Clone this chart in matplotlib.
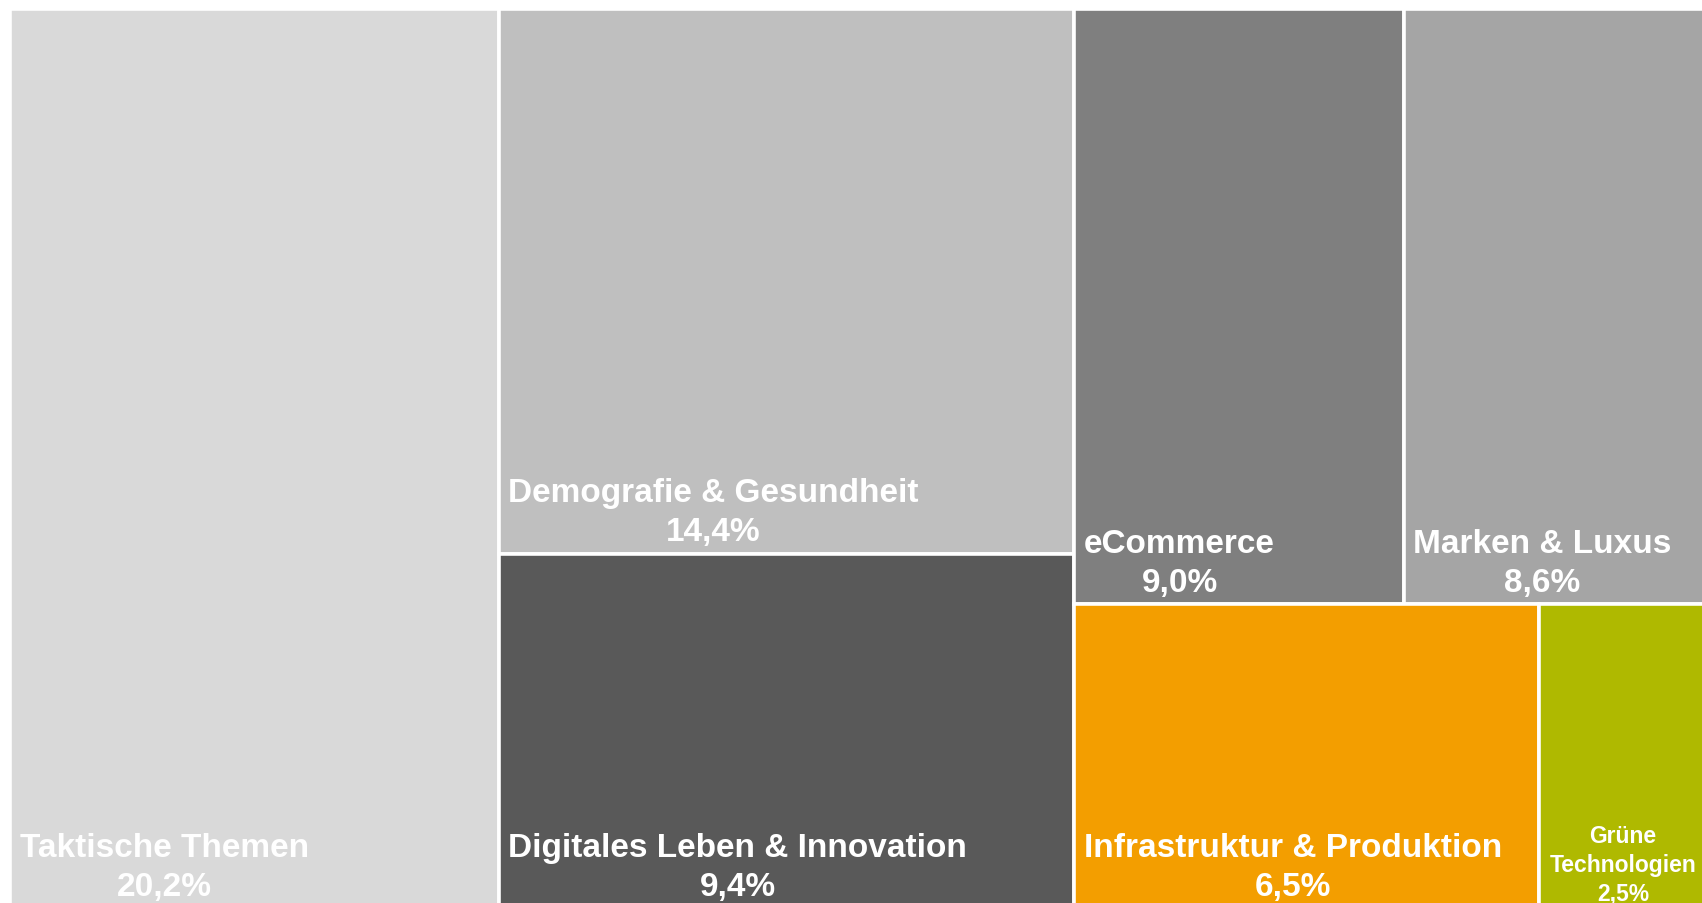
import matplotlib
matplotlib.use("Agg")
import matplotlib.pyplot as plt
from matplotlib.patches import Rectangle

plt.rcParams['font.family'] = ['Liberation Sans', 'DejaVu Sans']

categories = ["Taktische Themen", "Demografie & Gesundheit", "Digitales Leben & Innovation",
              "eCommerce", "Marken & Luxus", "Infrastruktur & Produktion", "Grüne\nTechnologien"]
values = [20.2, 14.4, 9.4, 9.0, 8.6, 6.5, 2.5]
labels = ["20,2%", "14,4%", "9,4%", "9,0%", "8,6%", "6,5%", "2,5%"]
colors = ["#D9D9D9", "#BFBFBF", "#595959", "#7F7F7F", "#A5A5A5", "#F39E00", "#AFB900"]

# layout structure: columns -> rows -> items (indices)
structure = [[[0]], [[1], [2]], [[3, 4], [5, 6]]]

W, H = 1702, 904
dpi = 100
fig = plt.figure(figsize=(W / dpi, H / dpi), dpi=dpi)
ax = fig.add_axes([10 / W, -6 / H, 1708 / W, 900 / H])
ax.set_xlim(0, 1)
ax.set_ylim(0, 1)
ax.axis('off')

total = sum(values)
rects = {}
x = 0.0
for col in structure:
    csum = sum(values[i] for row in col for i in row)
    cw = csum / total
    ytop = 1.0
    for row in col:
        rsum = sum(values[i] for i in row)
        rh = rsum / csum
        xx = x
        for i in row:
            iw = cw * values[i] / rsum
            rects[i] = (xx, ytop - rh, iw, rh)
            xx += iw
        ytop -= rh
    x += cw

for i, (rx, ry, rw, rh) in rects.items():
    ax.add_patch(Rectangle((rx, ry), rw, rh, facecolor=colors[i], edgecolor='white',
                           linewidth=2.6, clip_on=False))
    if i == 6:
        ax.annotate(categories[i] + "\n" + labels[i], xy=(rx + rw / 2, ry), xytext=(-4, 3),
                    textcoords='offset points', ha='center', va='bottom', multialignment='center',
                    color='white', fontsize=16.5, fontweight='bold', linespacing=1.32)
    else:
        ax.annotate(categories[i] + "\n" + labels[i], xy=(rx, ry), xytext=(7, 5),
                    textcoords='offset points', ha='left', va='bottom', multialignment='center',
                    color='white', fontsize=24, fontweight='bold', linespacing=1.32)

fig.savefig("out.png", dpi=dpi, facecolor='white')
